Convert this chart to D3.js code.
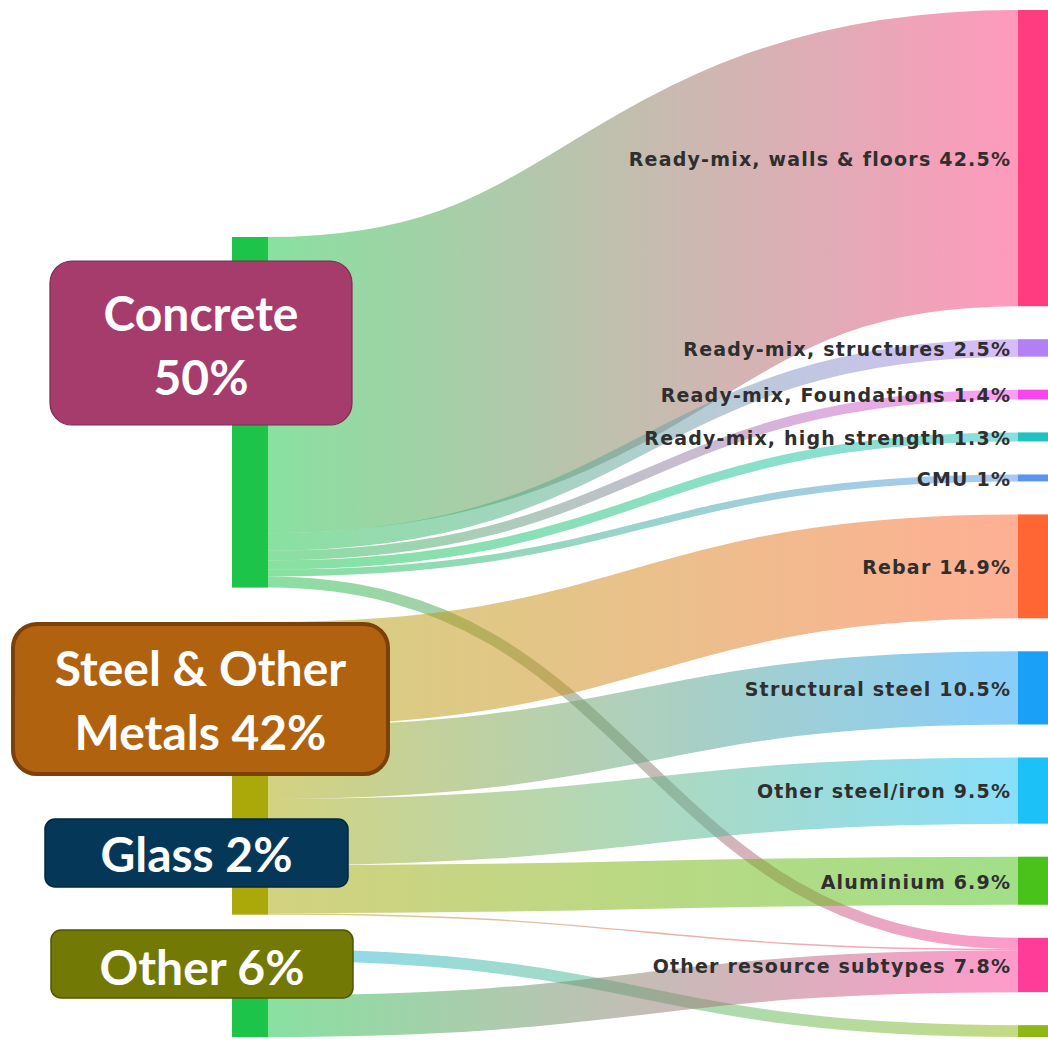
<!DOCTYPE html>
<html><head><meta charset="utf-8">
<script src="https://cdn.jsdelivr.net/npm/d3@7"></script>
<style>body{margin:0;background:#fff}</style>
</head><body>
<svg id="chart" width="1048" height="1042"></svg>
<script>
// ---------- DATA ----------
const sourceNames = ["Concrete", "Steel & Other Metals", "Glass", "Other"];
const sourceColors = ["#1cc44a", "#aba80a", "#22b8e6", "#1cc44a"];
const sourceBoxLines = [["Concrete", "50%"], ["Steel & Other", "Metals 42%"], ["Glass 2%"], ["Other 6%"]];
const sourceBoxFill = ["#a63c6c", "#b0620f", "#053858", "#727a05"];
const sourceBoxStroke = ["#7a2a50", "#7a420a", "#02263b", "#4f5400"];

const targetNames = ["Ready-mix, walls & floors", "Ready-mix, structures", "Ready-mix, Foundations",
  "Ready-mix, high strength", "CMU", "Rebar", "Structural steel", "Other steel/iron",
  "Aluminium", "Other resource subtypes", "Glass subtypes"];
const targetLabels = ["Ready-mix, walls & floors 42.5%", "Ready-mix, structures 2.5%",
  "Ready-mix, Foundations 1.4%", "Ready-mix, high strength 1.3%", "CMU 1%", "Rebar 14.9%",
  "Structural steel 10.5%", "Other steel/iron 9.5%", "Aluminium 6.9%",
  "Other resource subtypes 7.8%", ""];
const targetColors = ["#ff3c80", "#b27ff5", "#f845ec", "#1fc1c1", "#5a94ef", "#ff6633",
  "#1aa0f7", "#1cc2f7", "#4ac21c", "#ff3d99", "#8db816"];

const linkSource = [0, 0, 0, 0, 0, 0, 1, 1, 1, 1, 1, 2, 3];
const linkTarget = [0, 1, 2, 3, 4, 9, 5, 6, 7, 8, 9, 10, 9];
const linkValue  = [42.5, 2.5, 1.4, 1.3, 1.0, 1.6, 14.9, 10.5, 9.5, 6.9, 0.2, 1.7, 6.0];

// ---------- LAYOUT ----------
const svg = d3.select("#chart");
const topY = 10, bottomY = 1037, pad = 33, leftTop = 237;
const leftX0 = 232, leftX1 = 268, rightX0 = 1018, rightX1 = 1048;

const links = linkValue.map((v, i) => ({source: linkSource[i], target: linkTarget[i], value: v}));
const sVal = sourceNames.map((_, i) => d3.sum(links.filter(l => l.source === i), l => l.value));
const tVal = targetNames.map((_, i) => d3.sum(links.filter(l => l.target === i), l => l.value));
const total = d3.sum(tVal);
const k = (bottomY - topY - (targetNames.length - 1) * pad) / total;
const h = d3.scaleLinear().domain([0, total]).range([0, total * k]);
const padL = (bottomY - leftTop - h(d3.sum(sVal))) / (sourceNames.length - 1);

const sNodes = []; let y = leftTop;
sVal.forEach((v, i) => { sNodes.push({y0: y, y1: y + h(v)}); y += h(v) + padL; });
const tNodes = []; y = topY;
tVal.forEach((v, i) => { tNodes.push({y0: y, y1: y + h(v)}); y += h(v) + pad; });

// link offsets
sNodes.forEach((n, i) => {
  let o = n.y0;
  links.filter(l => l.source === i).sort((a, b) => a.target - b.target)
    .forEach(l => { l.w = h(l.value); l.ys = o + l.w / 2; o += l.w; });
});
tNodes.forEach((n, i) => {
  let o = n.y0;
  links.filter(l => l.target === i).sort((a, b) => a.source - b.source)
    .forEach(l => { l.yt = o + l.w / 2; o += l.w; });
});

// gradients
const defs = svg.append("defs");
links.forEach((l, i) => {
  const g = defs.append("linearGradient").attr("id", "g" + i)
    .attr("gradientUnits", "userSpaceOnUse").attr("x1", leftX1).attr("x2", rightX0);
  g.append("stop").attr("offset", "0%").attr("stop-color", sourceColors[l.source]);
  g.append("stop").attr("offset", "100%").attr("stop-color", targetColors[l.target]);
});

const linkGen = d3.linkHorizontal();
svg.append("g").attr("fill", "none").attr("stroke-opacity", 0.52)
  .selectAll("path").data(links).join("path")
  .attr("d", l => linkGen({source: [leftX1, l.ys], target: [rightX0, l.yt]}))
  .attr("stroke", (l, i) => `url(#g${i})`)
  .attr("stroke-width", l => Math.max(1, l.w));

// nodes
svg.append("g").selectAll("rect").data(sNodes).join("rect")
  .attr("x", leftX0).attr("width", leftX1 - leftX0)
  .attr("y", d => d.y0).attr("height", d => d.y1 - d.y0)
  .attr("fill", (d, i) => sourceColors[i]);
svg.append("g").selectAll("rect").data(tNodes).join("rect")
  .attr("x", rightX0).attr("width", rightX1 - rightX0)
  .attr("y", d => d.y0).attr("height", d => d.y1 - d.y0)
  .attr("fill", (d, i) => targetColors[i]);

// right labels
const ls = 1.2;
svg.append("g").selectAll("text").data(tNodes).join("text")
  .attr("x", rightX0 - 8 + ls).attr("y", d => (d.y0 + d.y1) / 2 + 1).attr("dy", "0.36em")
  .attr("text-anchor", "end")
  .attr("font-family", "DejaVu Sans").attr("font-weight", "bold").attr("font-size", 19)
  .attr("letter-spacing", ls).attr("fill", "#2f2f2f")
  .text((d, i) => targetLabels[i]);

// left annotation boxes
const boxes = [
  {x: 50, y: 261, w: 302, h: 164, r: 22, sw: 1.2, lines: [331, 395]},
  {x: 13, y: 624, w: 375, h: 150, r: 24, sw: 4, lines: [686, 750]},
  {x: 45, y: 819, w: 303, h: 68, r: 10, sw: 1.5, lines: [872]},
  {x: 51, y: 930, w: 302, h: 68, r: 10, sw: 1.5, lines: [985]}
];
const bg = svg.append("g").selectAll("g").data(boxes).join("g");
bg.append("rect").attr("x", d => d.x).attr("y", d => d.y).attr("width", d => d.w)
  .attr("height", d => d.h).attr("rx", d => d.r)
  .attr("fill", (d, i) => sourceBoxFill[i]).attr("stroke", (d, i) => sourceBoxStroke[i])
  .attr("stroke-width", d => d.sw);
bg.each(function(d, i) {
  const g = d3.select(this);
  sourceBoxLines[i].forEach((t, j) => {
    g.append("text").attr("x", d.x + d.w / 2).attr("y", d.lines[j])
      .attr("text-anchor", "middle").attr("fill", "#fff")
      .attr("font-family", "Lato").attr("font-weight", "bold").attr("font-size", 48)
      .text(t);
  });
});
</script>
</body></html>
